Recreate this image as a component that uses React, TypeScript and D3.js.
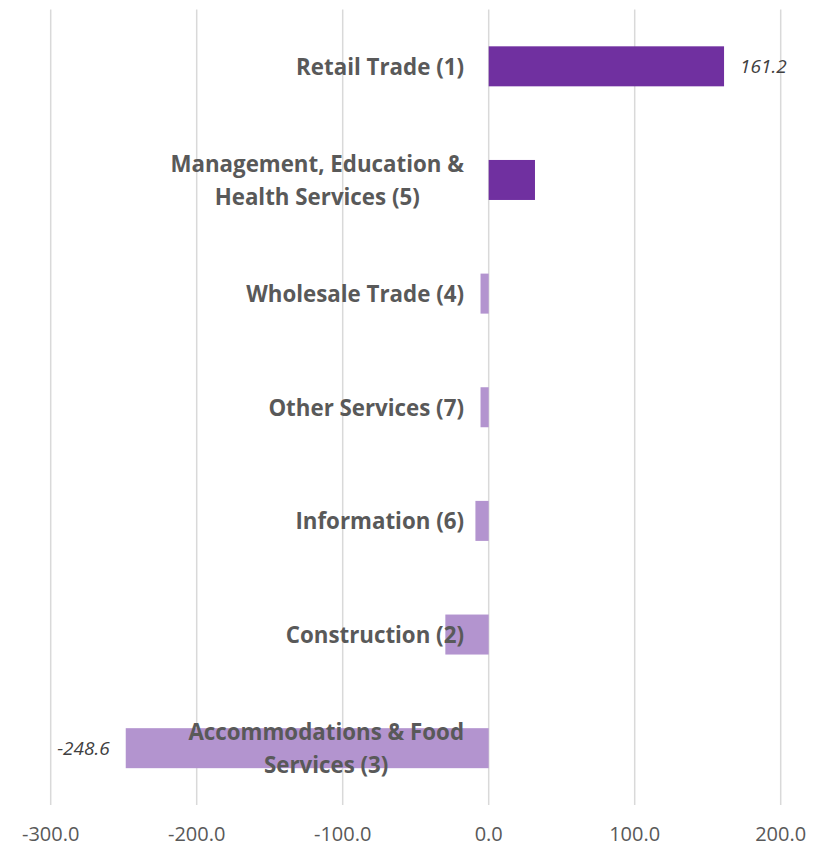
import React, { useEffect, useRef } from "react";
import * as d3 from "d3";

const categories: string[][] = [
  ["Retail Trade (1)"],
  ["Management, Education &", "Health Services (5)"],
  ["Wholesale Trade (4)"],
  ["Other Services (7)"],
  ["Information (6)"],
  ["Construction (2)"],
  ["Accommodations & Food", "Services (3)"],
];
const values: number[] = [161.2, 31.7, -5.6, -5.6, -9.1, -29.7, -248.6];
const showLabel: boolean[] = [true, false, false, false, false, false, true];
const xTicks: number[] = [-300, -200, -100, 0, 100, 200];

const W = 813;
const H = 847;
const FONT = "'Open Sans', 'Segoe UI', sans-serif";

export default function App() {
  const ref = useRef<SVGSVGElement | null>(null);

  useEffect(() => {
    const svg = d3.select(ref.current);
    svg.selectAll("*").remove();

    const x = d3.scaleLinear().domain([-300, 200]).range([50.7, 780.7]);
    const y = d3
      .scaleBand<number>()
      .domain(d3.range(categories.length))
      .range([9.5, 805])
      .paddingInner(0.648)
      .paddingOuter(0.324);

    // gridlines
    svg
      .append("g")
      .selectAll("line")
      .data(xTicks)
      .join("line")
      .attr("x1", (d) => x(d))
      .attr("x2", (d) => x(d))
      .attr("y1", 9.5)
      .attr("y2", 805)
      .attr("stroke", "#d9d9d9")
      .attr("stroke-width", 1.5);

    // tick labels
    svg
      .append("g")
      .selectAll("text")
      .data(xTicks)
      .join("text")
      .attr("x", (d) => x(d))
      .attr("y", 840.5)
      .attr("text-anchor", "middle")
      .attr("font-family", FONT)
      .attr("font-size", 20)
      .attr("fill", "#595959")
      .text((d) => d.toFixed(1));

    // bars
    svg
      .append("g")
      .selectAll("rect")
      .data(values)
      .join("rect")
      .attr("x", (d) => x(Math.min(0, d)))
      .attr("width", (d) => Math.abs(x(d) - x(0)))
      .attr("y", (_, i) => y(i)!)
      .attr("height", y.bandwidth())
      .attr("fill", (d) => (d >= 0 ? "#7030A0" : "#B394CF"));

    // data labels
    svg
      .append("g")
      .selectAll("text")
      .data(values.map((v, i) => ({ v, i })).filter((d) => showLabel[d.i]))
      .join("text")
      .attr("x", (d) => (d.v >= 0 ? x(d.v) + 16 : x(d.v) - 16))
      .attr("y", (d) => y(d.i)! + y.bandwidth() / 2)
      .attr("text-anchor", (d) => (d.v >= 0 ? "start" : "end"))
      .attr("dominant-baseline", "central")
      .attr("font-family", FONT)
      .attr("font-size", 19)
      .attr("font-style", "italic")
      .attr("fill", "#404040")
      .text((d) => d.v.toFixed(1));

    // category labels
    const lineH = 33;
    const right = 464;
    categories.forEach((lines, i) => {
      const cy = y(i)! + y.bandwidth() / 2;
      const g = svg.append("g");
      const texts = g
        .selectAll("text")
        .data(lines)
        .join("text")
        .attr("y", (_, k) => cy + (k - (lines.length - 1) / 2) * lineH)
        .attr("dominant-baseline", "central")
        .attr("text-anchor", "middle")
        .attr("font-family", FONT)
        .attr("font-size", 22.3)
        .attr("font-weight", "bold")
        .attr("fill", "#595959")
        .text((d) => d);
      let maxW = 0;
      texts.each(function () {
        maxW = Math.max(maxW, (this as SVGTextElement).getComputedTextLength());
      });
      texts.attr("x", right - maxW / 2);
    });
  }, []);

  return (
    <svg
      ref={ref}
      width={W}
      height={H}
      style={{ position: "absolute", left: 0, top: 0, background: "#fff" }}
    />
  );
}
